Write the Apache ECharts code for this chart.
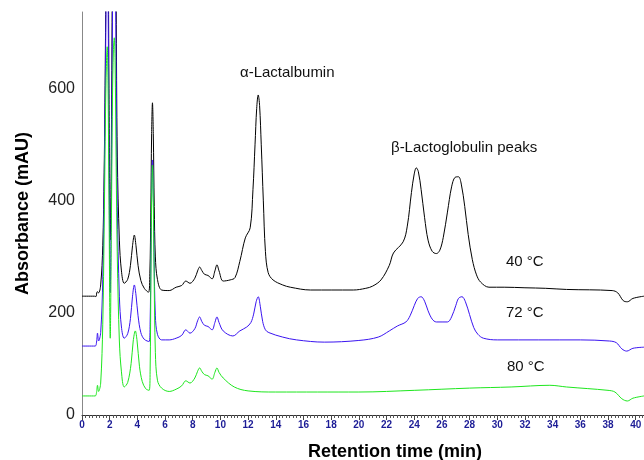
<!DOCTYPE html>
<html><head><meta charset="utf-8">
<script src="https://cdn.jsdelivr.net/npm/echarts@6/dist/echarts.min.js"></script>
<style>html,body{margin:0;padding:0;background:#fff}#c{width:644px;height:460px}</style>
</head><body><div id="c"></div>
<script>
// [retention time (min), absorbance (mAU)]
const trace40 = [[0,230],[0.9,230],[1.0,229],[1.1,238],[1.2,236],[1.35,250],[1.5,320],[1.6,450],[1.7,700],[1.76,950],[1.82,1150],[1.88,950],[1.95,600],[2.04,330],[2.12,500],[2.2,850],[2.27,1100],[2.33,1200],[2.39,1100],[2.47,750],[2.55,480],[2.7,330],[2.85,275],[3.05,253],[3.3,260],[3.5,285],[3.65,320],[3.78,339],[3.9,320],[4.05,285],[4.25,258],[4.5,244],[4.8,237],[4.9,270],[4.97,380],[5.03,520],[5.09,575],[5.15,520],[5.22,390],[5.3,300],[5.45,260],[5.75,241],[6.3,240],[6.8,246],[7.2,249],[7.5,257],[7.8,253],[8.15,262],[8.35,275],[8.5,282],[8.65,276],[8.85,269],[9.1,267],[9.4,261],[9.6,275],[9.75,286],[9.9,275],[10.2,257],[10.7,259],[11.05,263],[11.4,292],[11.8,334],[12.15,352],[12.35,420],[12.5,500],[12.62,565],[12.73,589],[12.83,570],[12.95,500],[13.1,400],[13.25,310],[13.45,272],[13.8,259],[14.5,250],[15.05,246],[16.5,241],[19.6,241],[20.5,244],[21.0,248],[21.6,259],[22.2,285],[22.5,307],[23.2,327],[23.5,355],[23.8,415],[24.0,448],[24.15,459],[24.3,452],[24.5,420],[24.75,370],[25.0,330],[25.3,310],[25.6,306],[25.85,312],[26.1,335],[26.4,380],[26.7,425],[26.95,442],[27.2,443],[27.4,430],[27.65,390],[27.9,340],[28.2,295],[28.5,268],[28.8,255],[29.4,246],[30.5,246],[32,245],[33.5,244],[35,242],[38.3,240],[38.7,236],[39.1,222],[39.4,220],[39.8,226],[40.6,230]];
const trace72 = [[0,141],[0.95,141],[1.05,148],[1.12,164],[1.2,150],[1.35,165],[1.5,260],[1.6,420],[1.7,650],[1.76,800],[1.82,900],[1.88,780],[1.95,500],[2.04,236],[2.12,420],[2.2,720],[2.27,900],[2.33,950],[2.39,880],[2.47,620],[2.55,390],[2.7,230],[2.85,175],[3.05,155],[3.3,163],[3.5,190],[3.65,230],[3.78,250],[3.9,232],[4.05,195],[4.25,165],[4.5,153],[4.85,149],[4.92,180],[4.98,300],[5.04,430],[5.09,473],[5.14,430],[5.21,300],[5.3,195],[5.45,162],[5.75,152],[6.3,152],[6.8,155],[7.2,160],[7.5,170],[7.8,164],[8.15,172],[8.35,186],[8.5,193],[8.65,185],[8.85,178],[9.1,176],[9.4,170],[9.6,183],[9.75,193],[9.9,183],[10.2,168],[10.9,159],[11.4,168],[11.9,175],[12.2,183],[12.4,198],[12.58,220],[12.73,229],[12.88,212],[13.05,185],[13.25,170],[13.5,165],[14.5,157],[15.5,152],[17.5,148],[20,151],[21.4,157],[22.2,168],[22.8,177],[23.4,184],[23.7,195],[24.0,213],[24.25,226],[24.5,229],[24.75,221],[25.0,204],[25.3,189],[25.6,184],[26.4,184],[26.7,193],[27.0,213],[27.2,226],[27.45,229],[27.7,220],[28.0,197],[28.3,174],[28.6,162],[29.0,155],[30,152],[36,152],[38.1,150],[38.6,147],[39.0,136],[39.35,132],[39.8,137],[40.6,139]];
const trace80 = [[0,52],[0.95,52],[1.05,58],[1.12,71],[1.2,60],[1.35,75],[1.5,180],[1.6,350],[1.7,560],[1.76,640],[1.82,675],[1.88,610],[1.95,400],[2.04,155],[2.12,350],[2.2,580],[2.27,670],[2.33,691],[2.39,650],[2.47,460],[2.55,300],[2.7,150],[2.85,95],[3.05,68],[3.3,76],[3.55,110],[3.7,150],[3.85,168],[3.98,150],[4.15,105],[4.35,78],[4.6,65],[4.85,62],[4.92,95],[4.98,270],[5.04,420],[5.09,464],[5.14,420],[5.21,270],[5.3,130],[5.45,80],[5.75,66],[6.3,60],[6.8,64],[7.2,70],[7.5,79],[7.8,75],[8.15,84],[8.35,96],[8.5,102],[8.65,96],[8.85,90],[9.1,88],[9.4,82],[9.6,94],[9.75,102],[9.9,94],[10.2,84],[11.0,68],[12.0,61],[14,59],[17,59],[20,59],[24,62],[28,66],[31,68],[33.8,71],[35,68],[38,62],[38.5,59],[39.0,47],[39.4,43],[39.8,48],[40.6,52]];

const seriesNames = ['40 °C', '72 °C', '80 °C'];
const yTicks = [18, 200, 400, 600];
const yTickText = ['0', '200', '400', '600'];
const xTickStep = 2;

const chart = echarts.init(document.getElementById('c'));
const lineSeries = (name, data, color) => ({
  name, type: 'line', data, showSymbol: false, symbol: 'none',
  smooth: 0.35, clip: true,
  lineStyle: { color, width: 1 }, animation: false
});
const FONT = 'Liberation Sans';
chart.setOption({
  animation: false,
  grid: { left: 82, top: 12, right: 0, bottom: 45, containLabel: false, outerBoundsMode: 'none' },
  xAxis: {
    type: 'value', min: 0, max: 40.6, interval: xTickStep,
    name: 'Retention time (min)', nameLocation: 'middle', nameGap: 28,
    nameTextStyle: { fontFamily: FONT, fontWeight: 'bold', fontSize: 18, color: '#000', padding: [0, 0, 0, 64] },
    axisLine: { show: true, lineStyle: { color: '#333', width: 1 } },
    axisTick: { show: true, length: 5, lineStyle: { color: '#444' } },
    minorTick: { show: true, splitNumber: 8, length: 3, lineStyle: { color: '#555' } },
    splitLine: { show: false },
    axisLabel: { margin: 5, fontFamily: FONT, fontWeight: 'bold', fontSize: 10, color: '#1c1c96',
      formatter: v => (v > 40 ? '' : String(v)) }
  },
  yAxis: {
    type: 'value', min: 18, max: 737,
    name: 'Absorbance (mAU)', nameLocation: 'middle', nameGap: 50,
    nameTextStyle: { fontFamily: FONT, fontWeight: 'bold', fontSize: 18, color: '#000' },
    axisLine: { show: true, lineStyle: { color: '#888', width: 1 } },
    axisTick: { show: false },
    splitLine: { show: false },
    axisLabel: { customValues: yTicks, margin: 7, fontFamily: FONT, fontSize: 16, color: '#222',
      formatter: v => yTickText[yTicks.indexOf(v)] ?? '' }
  },
  series: [
    lineSeries(seriesNames[0], trace40, '#000000'),
    lineSeries(seriesNames[1], trace72, '#3a14f0'),
    lineSeries(seriesNames[2], trace80, '#1ee61e')
  ],
  graphic: [
    { type: 'text', left: 240, top: 65, style: { text: 'α-Lactalbumin', font: '15px Liberation Sans', fill: '#111' } },
    { type: 'text', left: 391, top: 140, style: { text: 'β-Lactoglobulin peaks', font: '15px Liberation Sans', fill: '#111' } },
    { type: 'text', left: 506, top: 254, style: { text: seriesNames[0], font: '15px Liberation Sans', fill: '#111' } },
    { type: 'text', left: 506, top: 305, style: { text: seriesNames[1], font: '15px Liberation Sans', fill: '#111' } },
    { type: 'text', left: 507, top: 359, style: { text: seriesNames[2], font: '15px Liberation Sans', fill: '#111' } }
  ]
});
</script></body></html>
